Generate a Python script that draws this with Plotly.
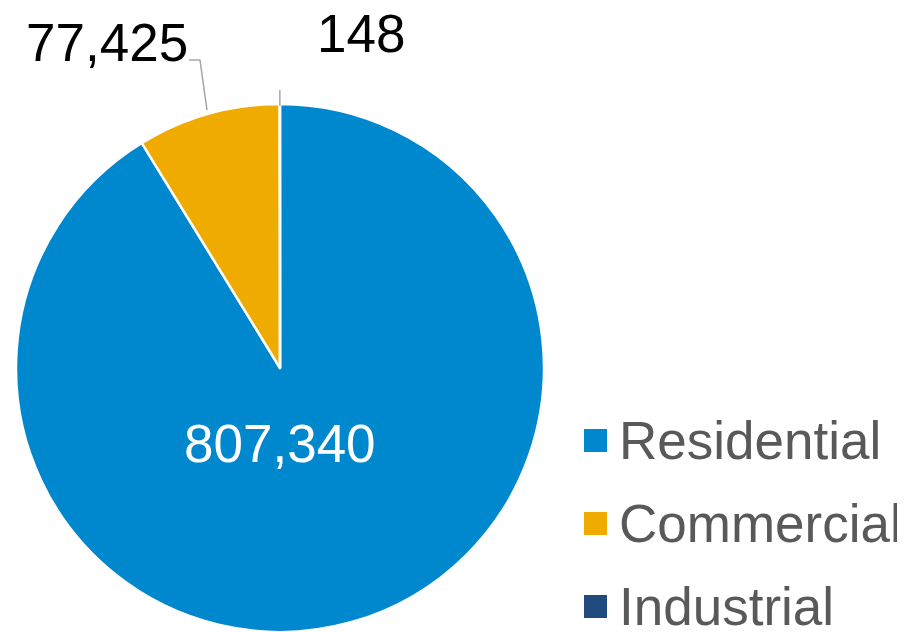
import math
import plotly.graph_objects as go

CATEGORIES = ["Residential", "Commercial", "Industrial"]
VALUES = [807340, 77425, 148]
COLORS = ["#0088CE", "#F0AB00", "#1F4A7D"]

# the page body keeps its default 8px margin, so work in window pixels
PAGE_W, PAGE_H = 905, 632
OFF = 8
W, H = PAGE_W - OFF, PAGE_H - OFF

FONT = "Liberation Sans, Arial, sans-serif"
LABEL_SIZE = 53

# pie centre / radius in window pixels; radius is limited by the bottom edge
CX, CY = 280, 368
R = PAGE_H - CY


def px(x):
    return (x - OFF) / W


def py(y):
    return 1 - (y - OFF) / H


def on_circle(theta_deg, rad):
    t = math.radians(theta_deg)
    return CX + rad * math.sin(t), CY - rad * math.cos(t)


fig = go.Figure(go.Pie(
    labels=CATEGORIES,
    values=VALUES,
    marker=dict(colors=COLORS, line=dict(color="white", width=2.5)),
    sort=False,
    direction="clockwise",
    rotation=0,
    textinfo="none",
    hoverinfo="label+value",
    domain=dict(x=[px(CX - R), px(CX + R)], y=[0, py(CY - R)]),
    showlegend=False,
))

# mid angle of each slice (degrees clockwise from 12 o'clock)
total = sum(VALUES)
mids, cum = [], 0
for v in VALUES:
    mids.append((cum + v / 2) / total * 360)
    cum += v

annotations, shapes = [], []

# ── data labels ──
# big slice: inside, white
annotations.append(dict(
    x=px(CX), y=py(CY + 75), xref="paper", yref="paper",
    xanchor="center", yanchor="middle",
    text=f"{VALUES[0]:,}", showarrow=False,
    font=dict(family=FONT, size=LABEL_SIZE, color="white"),
))

# commercial: elbow leader line to label on the left
sx, sy = on_circle(mids[1], R + 4)
ex, ey = sx - 7, 60
hx = ex - 11
shapes.append(dict(
    type="path", xref="paper", yref="paper",
    path=f"M {px(sx)},{py(sy)} L {px(ex)},{py(ey)} L {px(hx)},{py(ey)}",
    line=dict(color="#A6A6A6", width=1.5),
))
annotations.append(dict(
    x=px(hx + 1), y=py(ey - 18), xref="paper", yref="paper",
    xanchor="right", yanchor="middle",
    text=f"{VALUES[1]:,}", showarrow=False,
    font=dict(family=FONT, size=LABEL_SIZE, color="black"),
))

# industrial: short radial leader, label above-right
sx, sy = on_circle(mids[2], R - 2)
tx, ty = on_circle(mids[2], R + 14)
shapes.append(dict(
    type="line", xref="paper", yref="paper",
    x0=px(sx), y0=py(sy), x1=px(tx), y1=py(ty),
    line=dict(color="#A6A6A6", width=1.5),
))
annotations.append(dict(
    x=px(tx + 81), y=py(34), xref="paper", yref="paper",
    xanchor="center", yanchor="middle",
    text=f"{VALUES[2]:,}", showarrow=False,
    font=dict(family=FONT, size=LABEL_SIZE, color="black"),
))

# ── legend (drawn by hand so the swatches can be large) ──
for i, (cat, col) in enumerate(zip(CATEGORIES, COLORS)):
    yc = 440 + 83 * i
    shapes.append(dict(
        type="rect", xref="paper", yref="paper",
        x0=px(584), x1=px(607), y0=py(yc - 11), y1=py(yc + 12),
        fillcolor=col, line=dict(width=0),
    ))
    annotations.append(dict(
        x=px(617), y=py(yc), xref="paper", yref="paper",
        xanchor="left", yanchor="middle",
        text=cat, showarrow=False,
        font=dict(family=FONT, size=LABEL_SIZE, color="#595959"),
    ))

fig.update_layout(
    width=W,
    height=H,
    margin=dict(t=0, b=0, l=0, r=0),
    paper_bgcolor="white",
    plot_bgcolor="white",
    font=dict(family=FONT),
    annotations=annotations,
    shapes=shapes,
)

fig.write_html("out.html")
